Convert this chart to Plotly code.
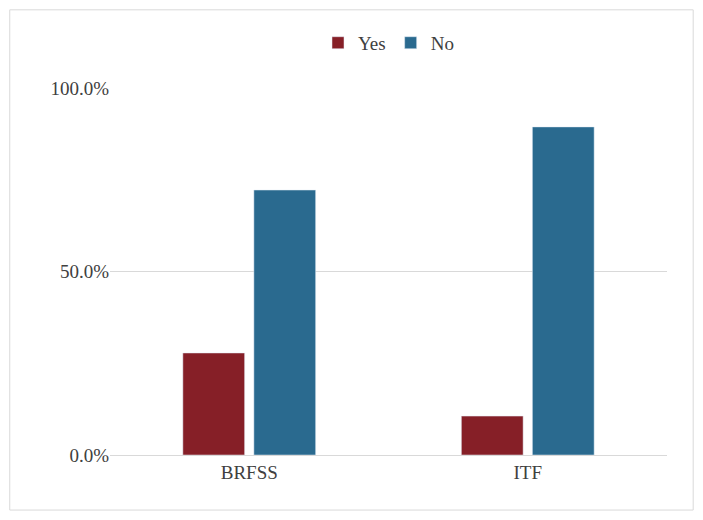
import plotly.graph_objects as go

categories = ["BRFSS", "ITF"]
yes_values = [0.278, 0.106]
no_values = [0.722, 0.894]
tick_vals = [0, 0.5, 1.0]
tick_text = ["0.0%", "50.0%", "100.0%"]

fig = go.Figure()
fig.add_trace(go.Bar(x=categories, y=yes_values, name="Yes", marker_color="#861F27"))
fig.add_trace(go.Bar(x=categories, y=no_values, name="No", marker_color="#2A6A8F"))

fig.update_layout(
    width=703, height=520,
    font=dict(family="Liberation Serif, DejaVu Serif, serif", size=19, color="#404040"),
    paper_bgcolor="white", plot_bgcolor="white",
    margin=dict(l=102, r=44, t=80, b=73),
    barmode="group", bargap=0.49, bargroupgap=0.13,
    legend=dict(orientation="h", x=0.5, xanchor="center", y=1.123, yanchor="middle",
                font=dict(size=19), itemwidth=30, traceorder="normal",
                bgcolor="rgba(0,0,0,0)"),
    shapes=[dict(type="rect", xref="paper", yref="paper", x0=-0.18, x1=1.047, y0=-0.15, y1=1.213,
                 line=dict(color="#D9D9D9", width=1))],
)
fig.update_yaxes(range=[0, 1.0], tickvals=tick_vals, ticktext=tick_text,
                 showgrid=True, gridcolor="#D9D9D9", zeroline=False, ticks="", ticklen=0)
fig.update_xaxes(showline=True, linecolor="#D9D9D9", ticks="")

fig.write_html("out.html")
